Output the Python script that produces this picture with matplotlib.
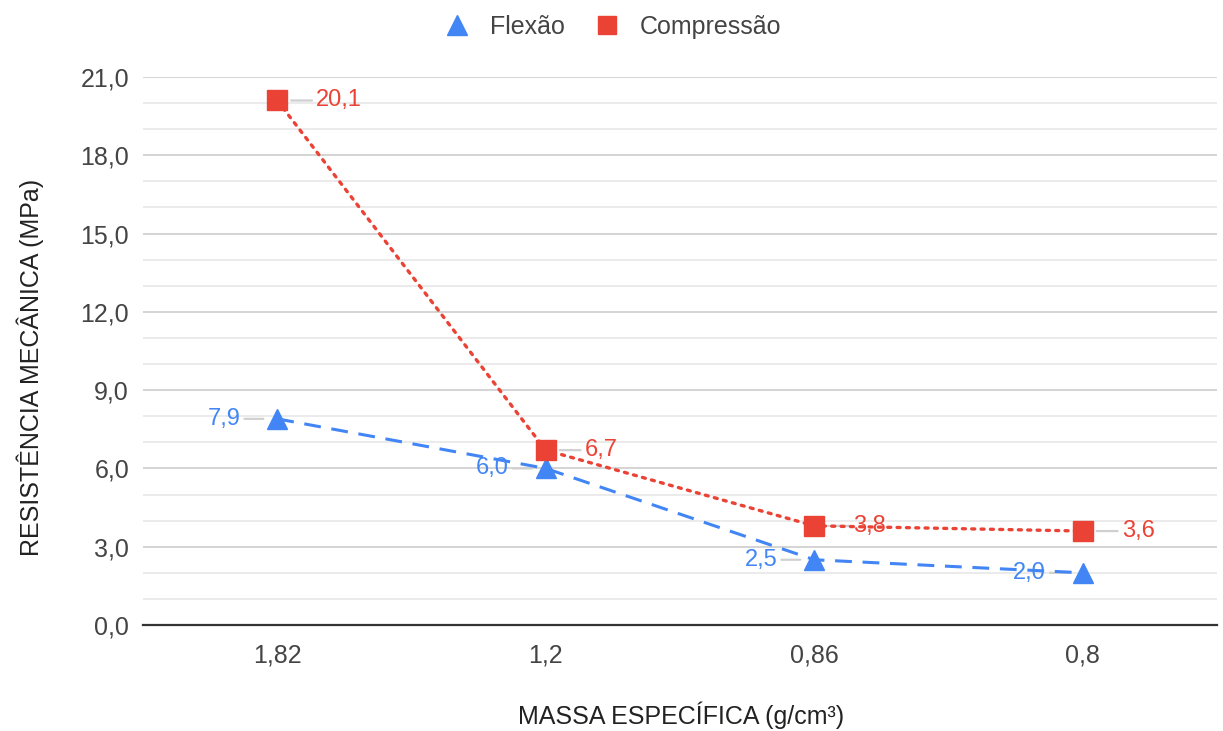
import matplotlib
matplotlib.use("Agg")

import matplotlib.pyplot as plt
from matplotlib.lines import Line2D
from matplotlib.ticker import MultipleLocator, FuncFormatter

# densidades ensaiadas (eixo categórico) e resistências medidas
massa_especifica = ["1,82", "1,2", "0,86", "0,8"]
flexao = [7.9, 6.0, 2.5, 2.0]
compressao = [20.1, 6.7, 3.8, 3.6]

BLUE = "#4285F4"
RED = "#EA4335"
TEXT = "#222222"
TICK = "#444444"
FS = 18

plt.rcParams["font.family"] = ["Liberation Sans", "DejaVu Sans"]

W, H = 1223, 731
fig = plt.figure(figsize=(W / 100, H / 100), dpi=100)
ax = fig.add_axes([143 / W, 1 - 625 / H, 1074 / W, 548 / H])

xs = list(range(len(massa_especifica)))

ax.plot(xs, flexao, color=BLUE, lw=2.2, dashes=(5.5, 3.5),
        marker="^", markersize=15, zorder=4, clip_on=False)
ax.plot(xs, compressao, color=RED, lw=2.4, dashes=(0.9, 1.9),
        dash_capstyle="round", marker="s", markersize=14, zorder=5,
        clip_on=False)


def fmt(v):
    return f"{v:.1f}".replace(".", ",")


# rótulos de dados com linha de chamada cinza
for x, v in zip(xs, flexao):
    ax.annotate(fmt(v), xy=(x, v), xytext=(-37, 0), textcoords="offset pixels",
                ha="right", va="center", color=BLUE, fontsize=17,
                arrowprops=dict(arrowstyle="-", color="#d0d0d0", lw=1.6,
                                shrinkA=1, shrinkB=10),
                zorder=3)
for x, v in zip(xs, compressao):
    ax.annotate(fmt(v), xy=(x, v), xytext=(39, 0), textcoords="offset pixels",
                ha="left", va="center", color=RED, fontsize=17,
                arrowprops=dict(arrowstyle="-", color="#d0d0d0", lw=1.6,
                                shrinkA=1, shrinkB=10),
                zorder=3)

ax.set_xlim(-0.5, len(xs) - 0.5)
ax.set_ylim(0, 21)
ax.set_xticks(xs)
ax.set_xticklabels(massa_especifica)
ax.yaxis.set_major_locator(MultipleLocator(3))
ax.yaxis.set_minor_locator(MultipleLocator(1))
ax.yaxis.set_major_formatter(FuncFormatter(lambda v, _: fmt(v)))

ax.grid(True, which="major", axis="y", color="#d4d4d4", lw=1.4, zorder=0)
ax.grid(True, which="minor", axis="y", color="#ebebeb", lw=1.4, zorder=0)
ax.set_axisbelow(True)

for side in ("left", "right", "top"):
    ax.spines[side].set_visible(False)
ax.spines["bottom"].set_color("#333333")
ax.spines["bottom"].set_linewidth(1.6)

ax.tick_params(axis="both", which="both", length=0, colors=TICK, labelsize=FS)
ax.tick_params(axis="y", pad=10)
ax.tick_params(axis="x", pad=13)

fig.text(681 / W, 1 - 715 / H, "MASSA ESPECÍFICA (g/cm³)", fontsize=FS,
         color=TEXT, ha="center", va="center")
fig.text(30 / W, 1 - 367 / H, "RESISTÊNCIA MECÂNICA (MPa)", fontsize=FS,
         color=TEXT, ha="center", va="center", rotation=90)

handles = [
    Line2D([], [], ls="none", marker="^", markersize=14, color=BLUE),
    Line2D([], [], ls="none", marker="s", markersize=13, color=RED),
]
fig.legend(handles, ["Flexão", "Compressão"], loc="center",
           bbox_to_anchor=(0.5, 1 - 27 / H), ncol=2, frameon=False,
           fontsize=FS, labelcolor=TICK, handletextpad=0.7,
           columnspacing=1.1, handlelength=1.2)

fig.savefig("out.png", dpi=100, facecolor="white")
